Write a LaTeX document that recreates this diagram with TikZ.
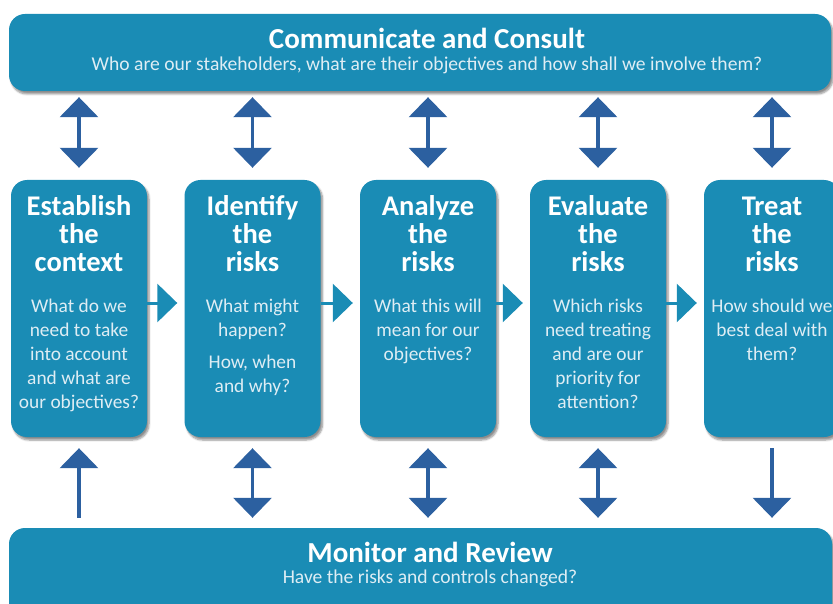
\documentclass[tikz,border=0pt]{standalone}
\usepackage{fontspec}
\setmainfont{Carlito}
\usetikzlibrary{arrows.meta,shadows.blur}
\definecolor{boxblue}{RGB}{26,140,181}
\definecolor{arrowblue}{RGB}{44,96,160}
\definecolor{paletext}{RGB}{222,237,244}

\begin{document}
\begin{tikzpicture}[x=1pt,y=-1pt,
  bar/.style={fill=boxblue,rounded corners=16pt,
    blur shadow={shadow xshift=2pt,shadow yshift=-3pt,shadow blur steps=6,shadow opacity=45}},
  stepbox/.style={bar,minimum width=136pt,minimum height=257pt},
  head/.style={text=white,font=\fontsize{29}{30}\selectfont\bfseries},
  sub/.style={text=paletext,font=\fontsize{19.6}{22}\selectfont},
  steptitle/.style={text=white,align=center,inner sep=0pt,font=\fontsize{28.5}{28}\selectfont\bfseries},
  stepbody/.style={text=paletext,align=center,inner sep=0pt,anchor=north,font=\fontsize{19.4}{24}\selectfont},
  vert/.style={draw=arrowblue,line width=3.5pt},
  tip/.tip={Triangle[width=38pt,length=20pt]},
  horiz/.style={draw=boxblue,line width=3pt,-{Triangle[width=38pt,length=20pt]},shorten >=7pt}]
\useasboundingbox (0,0) rectangle (833,604);

% top and bottom bars
\node[bar,minimum width=822pt,minimum height=77pt] (cc) at (420,52.5) {};
\node[head] (cctitle) at (427,38) {Communicate and Consult};
\node[sub] (ccsub) at (427,65) {Who are our stakeholders, what are their objectives and how shall we involve them?};

\node[bar,minimum width=823pt,minimum height=92pt] (mr) at (420.5,574) {};
\node[head] (mrtitle) at (430,552) {Monitor and Review};
\node[sub] (mrsub) at (430,578) {Have the risks and controls changed?};

% the five steps
\node[stepbox] (b1) at (79,308.5) {};
\node[stepbox] (b2) at (252.5,308.5) {};
\node[stepbox] (b3) at (428,308.5) {};
\node[stepbox] (b4) at (598,308.5) {};
\node[stepbox] (b5) at (772,308.5) {};

\node[steptitle] (t1) at (79,234) {Establish\\the\\context};
\node[steptitle] (t2) at (252.5,234) {Identify\\the\\risks};
\node[steptitle] (t3) at (428,234) {Analyze\\the\\risks};
\node[steptitle] (t4) at (598,234) {Evaluate\\the\\risks};
\node[steptitle] (t5) at (772,234) {Treat\\the\\risks};

\node[stepbody] (q1) at (79,299) {What do we\\need to take\\into account\\and what are\\our objectives?};
\node[stepbody] (q2) at (252.5,299) {What might\\happen?\\[8pt]How, when\\and why?};
\node[stepbody] (q3) at (428,299) {What this will\\mean for our\\objectives?};
\node[stepbody] (q4) at (598,299) {Which risks\\need treating\\and are our\\priority for\\attention?};
\node[stepbody] (q5) at (772,299) {How should we\\best deal with\\them?};

% arrows
\foreach \b in {b1,b2,b3,b4,b5}
  \draw[vert,tip-tip,shorten <=6pt,shorten >=12pt] (cc.south -| \b) -- (\b.north);

\draw[vert,tip-,shorten <=11pt,shorten >=10pt] (b1.south) -- (mr.north -| b1);
\foreach \b in {b2,b3,b4}
  \draw[vert,tip-tip,shorten <=11pt,shorten >=10pt] (\b.south) -- (mr.north -| \b);
\draw[vert,-tip,shorten <=11pt,shorten >=10pt] (b5.south) -- (mr.north -| b5);

\foreach \a/\b in {b1/b2,b2/b3,b3/b4,b4/b5}
  \draw[horiz] ([yshift=5.5pt]\a.east) -- ([yshift=5.5pt]\b.west);
\end{tikzpicture}
\end{document}
